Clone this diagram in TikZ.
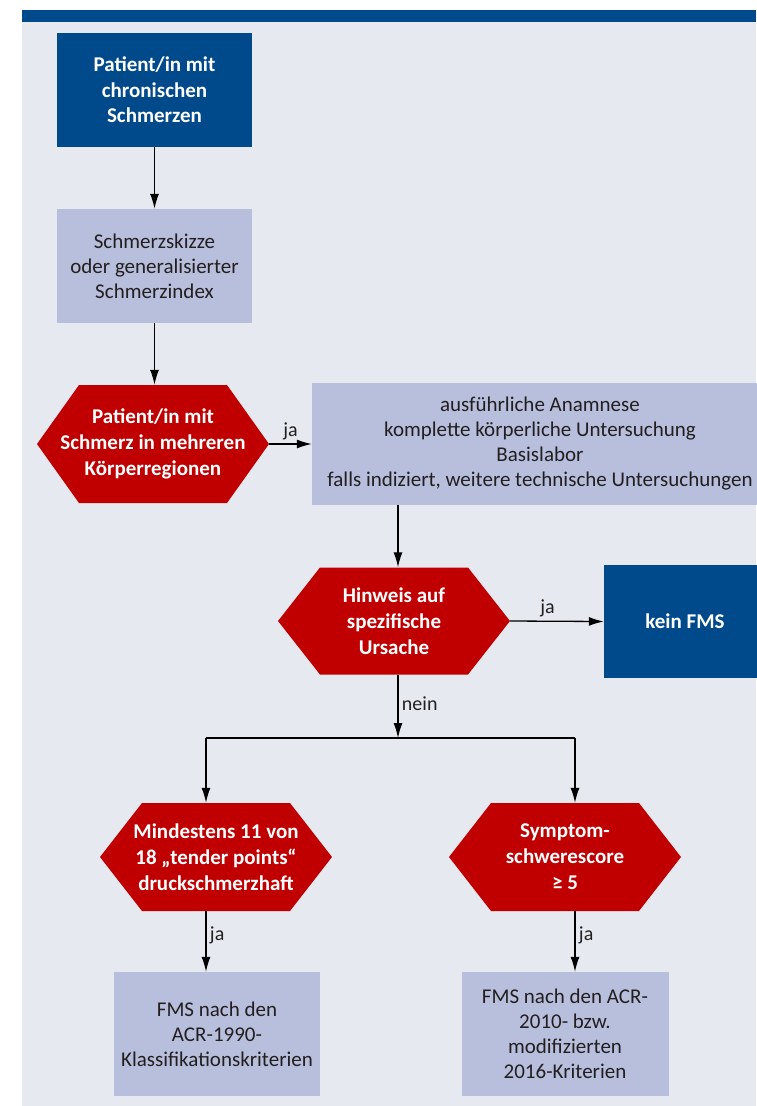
\documentclass[tikz,border=0pt]{standalone}
\usepackage{fontspec}
\setmainfont{Carlito}
\usetikzlibrary{arrows.meta}
\begin{document}
\begin{tikzpicture}[x=1pt,y=-1pt,
  >={Latex[length=15pt,width=9pt]},
  darkbox/.style={shape=rectangle,fill=fms_blue,text=white,align=center,font=\bfseries\fontsize{21}{25.5}\selectfont},
  lightbox/.style={shape=rectangle,fill=fms_lav,text=fms_text,align=center,font=\fontsize{21}{25}\selectfont},
  decision/.style={shape=rectangle,fill=fms_bg,text=white,align=center,inner sep=0pt,font=\bfseries\fontsize{21}{26}\selectfont,
    path picture={\fill[fms_red] (path picture bounding box.west) -- ([xshift=42pt]path picture bounding box.north west)
      -- ([xshift=-42pt]path picture bounding box.north east) -- (path picture bounding box.east)
      -- ([xshift=-42pt]path picture bounding box.south east) -- ([xshift=42pt]path picture bounding box.south west) -- cycle;}},
  yesno/.style={text=fms_text,font=\fontsize{20}{22}\selectfont}]
\definecolor{fms_blue}{RGB}{0,74,139}
\definecolor{fms_lav}{RGB}{184,191,220}
\definecolor{fms_red}{RGB}{192,0,0}
\definecolor{fms_bg}{RGB}{230,234,240}
\definecolor{fms_text}{RGB}{35,31,32}
\useasboundingbox (0,0) rectangle (756,1106);
\fill[fms_bg] (22,22) rectangle (756,1106);
\fill[fms_blue] (22,10) rectangle (756,22);

\node[darkbox,minimum width=195pt,minimum height=114pt] (patient) at (154.5,90) {Patient/in mit\\chronischen\\Schmerzen};
\node[lightbox,minimum width=195pt,minimum height=114pt] (skizze) at (154.5,266) {Schmerzskizze\\oder generalisierter\\Schmerzindex};
\node[decision,minimum width=232pt,minimum height=118pt] (regionen) at (153,444) {Patient/in mit\\Schmerz in mehreren\\Körperregionen};
\node[lightbox,minimum width=456pt,minimum height=122pt] (anamnese) at (540,444) {ausführliche Anamnese\\komplette körperliche Untersuchung\\Basislabor\\falls indiziert, weitere technische Untersuchungen};

\node[decision,minimum width=232pt,minimum height=107pt] (ursache) at (394,621) {Hinweis auf\\spezifische\\Ursache};
\node[darkbox,minimum width=162pt,minimum height=113pt] (keinfms) at (685,621.5) {kein FMS};

\node[decision,minimum width=232pt,minimum height=108pt] (tender) at (216,857) {Mindestens 11 von\\18 „tender points“\\druckschmerzhaft};
\node[decision,minimum width=232pt,minimum height=108pt] (score) at (565,857) {Symptom-\\schwerescore\\≥ 5};

\node[lightbox,minimum width=206pt,minimum height=124pt] (acr1990) at (217,1034) {FMS nach den\\ACR-1990-\\Klassifikationskriterien};
\node[lightbox,minimum width=207pt,minimum height=124pt] (acr2010) at (565,1034) {FMS nach den ACR-\\2010- bzw.\\modifizierten\\2016-Kriterien};

\coordinate (split) at (398,738);
\coordinate (split_l) at (206,738);
\coordinate (split_r) at (575,738);

\draw[->,line width=1.3pt] (patient) to (skizze);
\draw[->,line width=1.3pt] (skizze.south) to (skizze.south |- regionen.north);
\draw[->,line width=1.3pt] (regionen.east) to node[above,yesno] {ja} (anamnese.west);
\draw[->,line width=1.3pt] (anamnese.south -| split) to (ursache.north -| split);
\draw[->,line width=1.3pt] (ursache.east) to node[above,yesno,pos=0.4] {ja} (keinfms.west);
\draw[->,line width=1.3pt] (ursache.south -| split) to node[right,yesno,pos=0.45] {nein} (split);
\draw[line width=1.3pt] (split_l) to (split_r);
\draw[->,line width=1.3pt] (split_l) to (tender.north -| split_l);
\draw[->,line width=1.3pt] (split_r) to (score.north -| split_r);
\draw[->,line width=1.3pt] (tender.south -| split_l) to node[right,yesno,pos=0.4] {ja} (acr1990.north -| split_l);
\draw[->,line width=1.3pt] (score.south -| split_r) to node[right,yesno,pos=0.4] {ja} (acr2010.north -| split_r);
\end{tikzpicture}
\end{document}
